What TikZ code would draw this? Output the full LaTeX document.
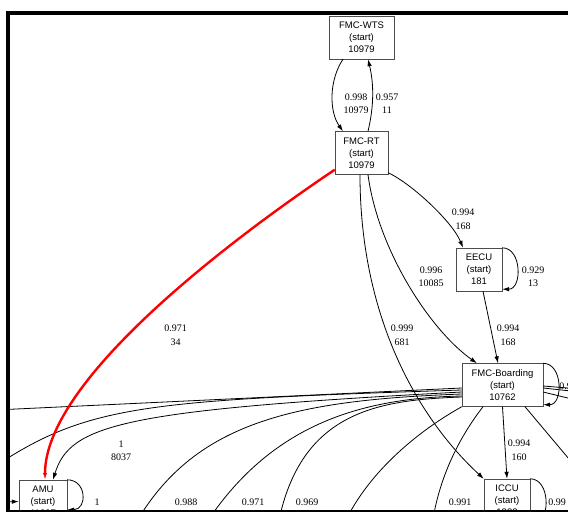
\documentclass[tikz,border=0pt]{standalone}
\usepackage{fontspec}
\newfontfamily\boxfont{Liberation Sans}
\newfontfamily\numfont{Liberation Serif}
\usetikzlibrary{arrows.meta,positioning,calc}

\begin{document}
\begin{tikzpicture}[
  x=1pt, y=-1pt,
  box/.style={draw=black!70, fill=white, align=center, inner sep=0pt,
              minimum height=43pt, font=\boxfont\fontsize{9.5}{12}\selectfont},
  lbl/.style={align=center, inner sep=0pt, font=\numfont\fontsize{10}{13.5}\selectfont},
  arr/.style={-{Latex[length=7pt,width=4.5pt]}, line width=0.8pt},
  wire/.style={line width=0.8pt},
  hot/.style={arr, draw=red, line width=2.4pt},
]
  \useasboundingbox (0,0) rectangle (568,512);
  \begin{scope}
  \clip (9.5,14.5) rectangle (568,510);

  % Start states
  \node[box, minimum width=65pt] (wts)   at (361.5,37.5) {FMC-WTS\\(start)\\10979};
  \node[box, minimum width=53pt] (rt)    at (361.5,153)  {FMC-RT\\(start)\\10979};
  \node[box, minimum width=46pt] (eecu)  at (479,269.5)  {EECU\\(start)\\181};
  \node[box, minimum width=81pt] (board) at (502.5,385)  {FMC-Boarding\\(start)\\10762};
  \node[box, minimum width=46pt] (iccu)  at (507,500.5)  {ICCU\\(start)\\1322};
  \node[box, minimum width=48pt] (amu)   at (43,501.5)   {AMU\\(start)\\11097};

  % Free ends outside the visible part
  \coordinate (wa) at (-5,410);
  \coordinate (wb) at (0,463);
  \coordinate (wc) at (-5,502);
  \coordinate (s1) at (140,516);
  \coordinate (s2) at (205,525);
  \coordinate (s3) at (278,525);
  \coordinate (s4) at (345,522);
  \coordinate (s5) at (432,525);
  \coordinate (e1) at (585,478);
  \coordinate (e2) at (580,389);
  \coordinate (e3) at (580,392);
  \coordinate (e4) at (580,401);

  % Top pair
  \draw[arr] ([xshift=-18.5pt]wts.south) .. controls +(-14,21) and +(-14,-20) .. ([xshift=-18.5pt]rt.north)
    node[lbl] (l1) at (356,103.5) {0.998\\10979};
  \draw[arr] ([xshift=6.5pt]rt.north) .. controls +(6,-25) and +(6,25) .. ([xshift=6.5pt]wts.south)
    node[lbl] (l2) at (387,103.5) {0.957\\11};

  % Out of FMC-RT
  \draw[arr] ([yshift=2pt]rt.south east) .. controls +(25,12) and +(-10,-25) .. ([xshift=-16pt]eecu.north)
    node[lbl] (l3) at (463,219) {0.994\\168};
  \draw[arr] ([xshift=6.5pt]rt.south) .. controls (378,250) and (430,330) .. ([xshift=-25.5pt]board.north)
    node[lbl] (l4) at (431,276.5) {0.996\\10085};
  \draw[arr] ([xshift=-1.5pt]rt.south) .. controls (360,320) and (420,420) .. (iccu.north west)
    node[lbl] (l5) at (402,335) {0.999\\681};

  % EECU
  \draw[arr] (eecu.north east) .. controls +(20,0) and +(20,0) .. ([yshift=2pt]eecu.south east)
    node[lbl] (l6) at (533,276.5) {0.929\\13};
  \draw[arr] ([xshift=4pt]eecu.south) -- ([xshift=-4.5pt]board.north)
    node[lbl] (l7) at (508,335) {0.994\\168};

  % FMC-Boarding
  \draw[arr] (board.north east) .. controls +(20,0) and +(20,0) .. ([yshift=2pt]board.south east)
    node[lbl, anchor=west] (l8) at (559,386) {0.9};
  \draw[arr] (board.south) -- (iccu.north)
    node[lbl] (l9) at (519,450) {0.994\\160};
  \draw[wire] ([yshift=-3pt]board.west) -- (wa);
  \draw[wire] ([yshift=-5pt]board.west) .. controls (150,400) and (90,405) .. (wb);
  \draw[arr] ([yshift=-7pt]board.west) .. controls (120,410) and (70,425) .. ([xshift=10pt]amu.north)
    node[lbl] (l10) at (121,450.5) {1\\8037};
  \draw[wire] ([yshift=-9pt]board.west) .. controls (300,400) and (200,420) .. (s1)
    node[lbl] (l11) at (186,502) {0.988};
  \draw[wire] ([yshift=-11pt]board.west) .. controls (360,398) and (270,425) .. (s2)
    node[lbl] (l12) at (253,502) {0.971};
  \draw[wire] ([yshift=-12pt]board.west) .. controls (380,400) and (300,410) .. (s3)
    node[lbl] (l13) at (307,502) {0.969};
  \draw[wire] (board.south west) .. controls (420,430) and (370,470) .. (s4);
  \draw[wire] ([xshift=-19.5pt]board.south) .. controls (465,430) and (440,470) .. (s5)
    node[lbl] (l14) at (460,502) {0.991};
  \draw[wire] ([xshift=22.5pt]board.south) -- (e1);
  \draw[wire] ([yshift=-1pt]board.east) -- (e2);
  \draw[wire] ([yshift=-3pt]board.east) -- (e3);
  \draw[wire] ([yshift=-7pt]board.east) -- (e4);

  % ICCU and AMU
  \draw[arr] (iccu.north east) .. controls +(20,0) and +(20,0) .. ([yshift=2pt]iccu.south east)
    node[lbl, anchor=west] (l15) at (548,502) {0.99};
  \draw[arr] (amu.north east) .. controls +(20,0) and +(20,0) .. ([yshift=13.5pt]amu.south east)
    node[lbl] (l16) at (97,502) {1};
  \draw[arr] (wc) -- (amu.west);

  % Red edge
  \draw[hot] ([yshift=5pt]rt.south west) .. controls (230,240) and (45,380) .. ([xshift=2pt]amu.north)
    node[lbl] (l17) at (175.5,335) {0.971\\34};
  \end{scope}

  % Frame
  \draw[line width=3.5pt] (7.75,512) -- (7.75,12.75) -- (568,12.75);
  \draw[line width=2pt] (6,511) -- (568,511);
\end{tikzpicture}
\end{document}
